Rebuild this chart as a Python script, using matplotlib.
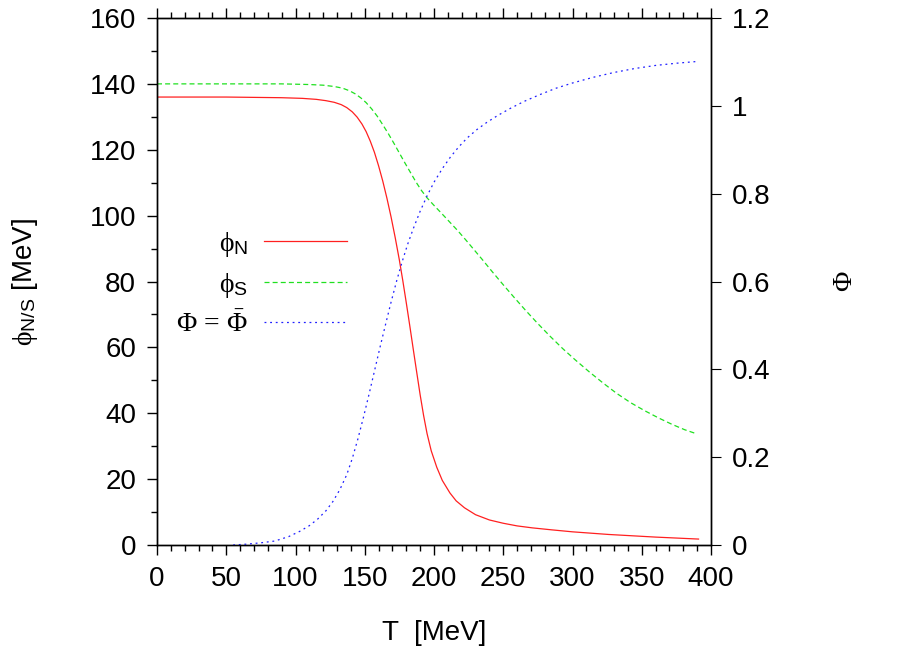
import matplotlib
matplotlib.use("Agg")
import matplotlib.pyplot as plt
from matplotlib.ticker import MultipleLocator

# data
T_N = [0, 50, 90, 105, 115, 122, 128, 133, 137, 141, 144.5, 148, 151, 154, 157, 160, 163,
       166, 169, 172, 175, 177.5, 180, 182.5, 185, 187.5, 190, 192.5, 195, 198, 202, 206,
       211.5, 216, 222, 230, 240, 250, 260, 271, 285, 300, 326, 360, 391]
phi_N = [136, 136, 135.8, 135.6, 135.3, 134.9, 134.4, 133.7, 132.8, 131.5, 129.9, 127.8,
         125.5, 122.6, 119.2, 115.1, 110.5, 105.3, 99.6, 93.3, 86.5, 80.2, 73.5, 66.6, 59.5,
         52.5, 45.6, 39.3, 33.8, 28.6, 23.6, 19.6, 15.8, 13.4, 11.3, 9.2, 7.6, 6.6, 5.8,
         5.2, 4.6, 4.0, 3.2, 2.4, 1.8]

T_S = [0, 90, 110, 120, 128, 134, 139, 143, 147, 151, 155, 159, 163, 167, 171, 175, 179,
       183, 187, 191, 195, 200, 205, 211, 217, 223, 229, 235, 242, 250, 258, 266, 275, 284,
       293, 302, 312, 322, 332, 342, 352, 362, 372, 381, 390]
phi_S = [140, 140, 139.8, 139.6, 139.2, 138.7, 137.9, 137.0, 135.8, 134.3, 132.4, 130.2,
         127.6, 124.9, 122.0, 119.0, 116.0, 113.1, 110.2, 107.6, 105.4, 103.1, 100.9, 98.2,
         95.5, 92.6, 89.6, 86.6, 83.0, 79.0, 75.1, 71.3, 67.2, 63.3, 59.6, 56.2, 52.6, 49.2,
         46.0, 43.2, 40.8, 38.6, 36.6, 35.0, 33.7]

T_P = [55, 65, 75, 85, 95, 103, 110, 116, 122, 127, 132, 137, 141, 145, 149, 153, 157, 161,
       165, 169, 173, 177, 181, 185, 190, 195, 200, 206, 212, 218, 224, 231, 238, 246, 255,
       265, 276, 288, 300, 315, 330, 345, 360, 375, 390]
Phi = [0, 0.002, 0.005, 0.009, 0.019, 0.031, 0.044, 0.059, 0.078, 0.099, 0.126, 0.160,
       0.197, 0.241, 0.290, 0.342, 0.396, 0.450, 0.502, 0.553, 0.601, 0.645, 0.685, 0.720,
       0.760, 0.795, 0.826, 0.857, 0.884, 0.907, 0.927, 0.946, 0.962, 0.978, 0.994, 1.010,
       1.025, 1.040, 1.052, 1.065, 1.076, 1.085, 1.092, 1.097, 1.101]

plt.rcParams['font.family'] = ['Liberation Sans', 'DejaVu Sans']
plt.rcParams['mathtext.fontset'] = 'custom'
plt.rcParams['mathtext.rm'] = 'Liberation Serif'
plt.rcParams['mathtext.it'] = 'Liberation Serif:italic'
plt.rcParams['mathtext.sf'] = 'Liberation Sans'
plt.rcParams['mathtext.default'] = 'rm'

fs = 20
fig = plt.figure(figsize=(9.13, 6.5), dpi=100)
ax = fig.add_axes([157 / 913, 105 / 650, 554 / 913, 527 / 650])
ax2 = ax.twinx()

l1, = ax.plot(T_N, phi_N, color='#ff2020', lw=0.9)
l2, = ax.plot(T_S, phi_S, color='#20e020', lw=0.9, dashes=(4, 2.5))
l3, = ax2.plot(T_P, Phi, color='#2020ff', lw=0.9, dashes=(1.5, 3))

ax.set_xlim(0, 400)
ax.set_ylim(0, 160)
ax2.set_ylim(0, 1.2)

ax.xaxis.set_major_locator(MultipleLocator(50))
ax.xaxis.set_minor_locator(MultipleLocator(10))
ax.yaxis.set_major_locator(MultipleLocator(20))
ax.yaxis.set_minor_locator(MultipleLocator(10))
ax2.set_yticks([0, 0.2, 0.4, 0.6, 0.8, 1.0, 1.2])
ax2.set_yticklabels(['0', '0.2', '0.4', '0.6', '0.8', '1', '1.2'])

ax.tick_params(which='both', direction='out', top=True, labelsize=fs, width=1)
ax.tick_params(which='major', length=7, pad=8)
ax.tick_params(which='minor', length=4)
ax2.tick_params(which='major', direction='out', length=7, labelsize=fs, pad=8)

for a in (ax, ax2):
    for s in a.spines.values():
        s.set_linewidth(1.0)

ax.set_xlabel('T  [MeV]', fontsize=fs, labelpad=20)
ax.set_ylabel(r'$\phi_{\mathsf{N/S}}$ [MeV]', fontsize=fs, labelpad=36)
ax2.set_ylabel(r'$\Phi$', fontsize=fs, labelpad=44)

leg = ax.legend([l1, l2, l3],
                [r'$\phi_{\mathsf{N}}$', r'$\phi_{\mathsf{S}}$', r'$\Phi\,=\,\bar{\Phi}$'],
                loc='upper right', bbox_to_anchor=(0.343, 0.598), frameon=False,
                markerfirst=False, fontsize=fs, handlelength=3.0, handletextpad=0.55,
                labelspacing=0.42, borderpad=0, borderaxespad=0)
for t in leg.get_texts():
    t.set_ha('right')

fig.savefig('out.png', dpi=100)
